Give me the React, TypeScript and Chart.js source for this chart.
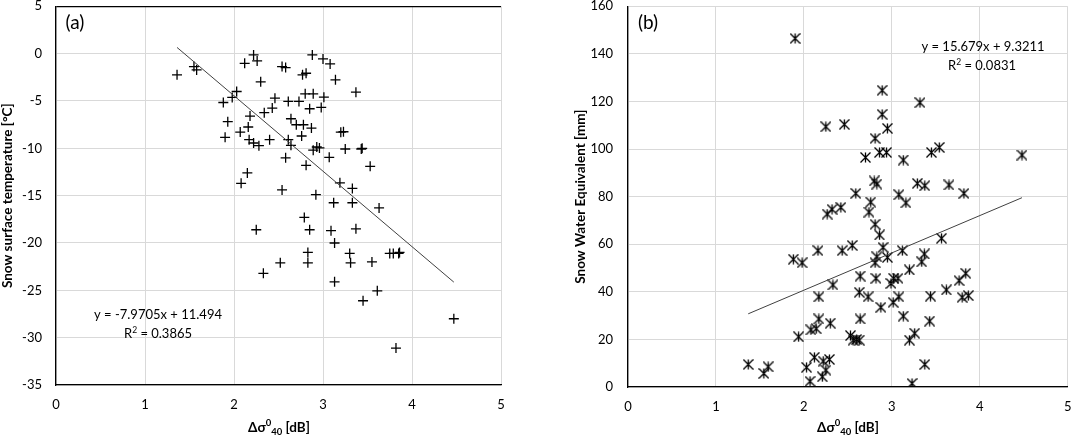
import React, { useEffect, useRef } from 'react';
import { Chart, registerables } from 'chart.js';
Chart.register(...registerables);

// ---- Panel (a): snow surface temperature vs Δσ0_40 ----
const tempDsigma = [
  1.36, 1.55, 1.58, 2.22, 2.26, 2.12, 2.54, 2.58, 2.88, 3.00,
  3.08, 2.77, 2.81, 3.14, 2.30, 2.03, 1.98, 1.88, 2.46, 2.61,
  2.73, 2.80, 2.89, 3.01, 2.85, 2.98, 2.43, 2.34, 2.18, 1.93,
  2.16, 2.64, 2.70, 2.78, 2.87, 3.20, 3.23, 2.07, 1.90, 2.76,
  2.40, 2.17, 2.22, 2.28, 2.61, 2.64, 2.89, 2.93, 2.96, 3.07,
  2.58, 2.81, 2.15, 2.08, 2.54, 2.92, 3.53, 3.19, 3.33, 3.12,
  3.33, 3.63, 2.79, 2.25, 2.85, 3.09, 3.37, 3.13, 2.83, 3.30,
  2.83, 2.52, 3.31, 3.55, 2.33, 3.13, 3.61, 3.45, 3.25, 3.43,
  3.44, 3.75, 3.79, 3.85, 3.86, 4.47, 3.82, 3.37,
];
const tempValues = [
  -2.24, -1.37, -1.72, -0.14, -0.77, -1.02, -1.37, -1.47, -0.14, -0.56,
  -1.09, -2.24, -2.07, -2.77, -2.98, -4.0, -4.63, -5.16, -4.7, -5.05,
  -5.05, -4.25, -4.25, -4.6, -5.82, -5.68, -5.75, -6.24, -6.6, -7.19,
  -7.75, -6.88, -7.51, -7.51, -7.86, -8.3, -8.25, -8.28, -8.84, -8.7,
  -9.09, -9.09, -9.44, -9.72, -9.09, -9.68, -10.2, -9.86, -9.96, -10.95,
  -11.0, -11.8, -12.6, -13.7, -14.4, -14.9, -11.9, -13.65, -14.24, -15.75,
  -15.75, -16.3, -17.3, -18.6, -18.6, -18.7, -18.5, -20.0, -21.0, -21.1,
  -22.1, -22.1, -22.1, -22.0, -23.2, -24.1, -25.05, -26.1, -10.07, -10.07,
  -10.0, -21.1, -21.1, -21.1, -21.0, -28.0, -31.1, -4.07,
];
const tempFit = [-7.9705, 11.494]; // slope, intercept
const tempEquation = ['y = -7.9705x + 11.494', '0.3865'];
const tempYTicks = [-35, 5, 5]; // min, max, step

// ---- Panel (b): snow water equivalent vs Δσ0_40 ----
const sweDsigma = [
  1.367, 1.545, 1.594, 1.88, 1.98, 1.94, 2.08, 2.14, 2.03, 2.12,
  2.07, 1.90, 2.89, 3.32, 2.89, 2.25, 2.46, 2.95, 2.81, 2.70,
  2.86, 2.94, 3.13, 3.45, 3.54, 2.80, 2.83, 3.29, 3.375, 3.65,
  2.59, 3.08, 3.16, 2.76, 2.74, 2.265, 2.32, 2.42, 2.81, 2.86,
  2.16, 2.435, 2.55, 2.90, 2.83, 2.81, 2.95, 2.64, 2.82, 2.33,
  2.99, 3.02, 3.07, 2.63, 2.17, 2.73, 4.48, 3.82, 3.565, 3.12,
  3.37, 3.34, 3.20, 3.765, 3.84, 3.08, 3.015, 2.875, 3.44, 3.62,
  3.80, 3.87, 2.64, 3.13, 3.43, 2.30, 2.53, 2.56, 2.60, 2.63,
  3.26, 3.20, 2.17, 2.22, 2.29, 2.25, 2.21, 3.375, 3.23,
];
const sweValues = [
  9.5, 5.7, 8.5, 53.7, 52.2, 21.1, 24.0, 24.5, 8.3, 12.5,
  2.4, 146.5, 124.7, 119.5, 114.6, 109.4, 110.4, 108.7, 104.5, 96.5,
  98.6, 98.6, 95.4, 98.6, 100.7, 86.6, 85.3, 85.6, 84.6, 84.9,
  81.4, 80.8, 77.4, 77.7, 73.5, 72.7, 74.7, 75.5, 68.4, 63.9,
  57.3, 57.3, 59.5, 58.7, 54.7, 52.2, 54.5, 46.6, 45.7, 42.9,
  43.5, 45.7, 45.7, 39.8, 37.9, 37.9, 97.5, 81.4, 62.5, 57.3,
  55.9, 52.6, 49.2, 44.7, 47.8, 37.9, 35.6, 33.5, 38.2, 40.8,
  37.7, 38.4, 28.6, 29.8, 27.7, 26.8, 21.6, 19.7, 20.0, 19.7,
  22.6, 19.7, 28.6, 10.9, 11.6, 7.1, 4.3, 9.5, 1.5,
];
const sweFit = [15.679, 9.3211];
const sweEquation = ['y = 15.679x + 9.3211', '0.0831'];
const sweYTicks = [0, 160, 20];

const xTicks = [0, 5, 1];

const FONT = 'Lato, "Noto Sans", sans-serif';

type Run = { t: string; size: number; dy?: number; bold?: boolean };
type Line = { runs: Run[]; cx: number; base: number };

function textPlugin(lines: Line[]) {
  return {
    id: 'texts',
    afterDraw(chart: any) {
      const ctx = chart.ctx as CanvasRenderingContext2D;
      ctx.save();
      ctx.fillStyle = '#000';
      ctx.textBaseline = 'alphabetic';
      ctx.textAlign = 'left';
      const f = (r: Run) => `${r.bold ? 'bold ' : ''}${r.size}px ${FONT}`;
      for (const ln of lines) {
        let w = 0;
        for (const r of ln.runs) {
          ctx.font = f(r);
          w += ctx.measureText(r.t).width;
        }
        let x = ln.cx - w / 2;
        for (const r of ln.runs) {
          ctx.font = f(r);
          ctx.fillText(r.t, x, ln.base + (r.dy || 0));
          x += ctx.measureText(r.t).width;
        }
      }
      ctx.restore();
    },
  };
}

function makeStar(): HTMLCanvasElement {
  const c = document.createElement('canvas');
  c.width = 11;
  c.height = 11;
  const g = c.getContext('2d')!;
  g.strokeStyle = '#000';
  g.lineWidth = 1.3;
  const m = 5.5;
  const r = 5;
  g.beginPath();
  g.moveTo(m, m - r);
  g.lineTo(m, m + r);
  g.moveTo(m - r, m - r);
  g.lineTo(m + r, m + r);
  g.moveTo(m + r, m - r);
  g.lineTo(m - r, m + r);
  g.stroke();
  return c;
}

function xTitle(cx: number): Line {
  return {
    cx,
    base: 432,
    runs: [
      { t: 'Δσ', size: 13.5, bold: true },
      { t: '0', size: 9.5, bold: true, dy: -6 },
      { t: '40', size: 9.5, bold: true, dy: 2.5 },
      { t: ' [dB]', size: 13.5, bold: true },
    ],
  };
}

function buildChart(
  canvas: HTMLCanvasElement,
  xs: number[],
  ys: number[],
  fit: number[],
  yTicks: number[],
  yTitle: string,
  yAxisWidth: number,
  yTitlePad: number,
  yTickPad: number,
  pad: { top: number; right: number },
  xAxisHeight: number,
  pointStyle: any,
  radius: number,
  texts: Line[],
  blackTop: boolean,
) {
  const pts = xs.map((x, i) => ({ x, y: ys[i] }));
  const xmin = Math.min(...xs);
  const xmax = Math.max(...xs);
  const trend = [
    { x: xmin, y: fit[0] * xmin + fit[1] },
    { x: xmax, y: fit[0] * xmax + fit[1] },
  ];
  const tickFont = { family: FONT, size: 13 };
  return new Chart(canvas, {
    type: 'scatter',
    data: {
      datasets: [
        {
          data: trend,
          showLine: true,
          borderColor: '#404040',
          borderWidth: 1,
          pointRadius: 0,
          fill: false,
        } as any,
        {
          data: pts,
          pointStyle,
          pointRadius: radius,
          pointHoverRadius: radius,
          borderColor: '#000',
          backgroundColor: '#000',
          borderWidth: 1.3,
          showLine: false,
        } as any,
      ],
    },
    options: {
      animation: false,
      responsive: false,
      events: [],
      layout: { padding: { top: pad.top, right: pad.right, left: 0, bottom: 0 } },
      plugins: { legend: { display: false }, tooltip: { enabled: false } },
      scales: {
        x: {
          type: 'linear',
          min: xTicks[0],
          max: xTicks[1],
          ticks: { stepSize: xTicks[2], color: '#000', font: tickFont, padding: 12 },
          grid: { color: '#d9d9d9', drawTicks: false, lineWidth: 1 },
          border: { color: '#000', width: 1.3 },
          afterFit: (s: any) => {
            s.height = xAxisHeight;
            s.paddingLeft = 0;
            s.paddingRight = 0;
          },
        },
        y: {
          type: 'linear',
          min: yTicks[0],
          max: yTicks[1],
          ticks: { stepSize: yTicks[2], color: '#000', font: tickFont, padding: yTickPad },
          grid: {
            color: (c: any) =>
              blackTop && c.tick && c.tick.value === yTicks[1] ? '#000' : '#d9d9d9',
            lineWidth: (c: any) => (blackTop && c.tick && c.tick.value === yTicks[1] ? 1.3 : 1),
            drawTicks: false,
          },
          border: { color: '#000', width: 1.3 },
          title: {
            display: true,
            text: yTitle,
            color: '#000',
            font: { family: FONT, size: 13.5, weight: 'bold' },
            padding: { top: yTitlePad, bottom: 0 },
          },
          afterFit: (s: any) => {
            s.width = yAxisWidth;
            s.paddingTop = 0;
            s.paddingBottom = 0;
          },
        },
      },
    } as any,
    plugins: [textPlugin(texts)],
  });
}

export default function App() {
  const refA = useRef<HTMLCanvasElement>(null);
  const refB = useRef<HTMLCanvasElement>(null);

  useEffect(() => {
    const a = buildChart(
      refA.current!,
      tempDsigma,
      tempValues,
      tempFit,
      tempYTicks,
      'Snow surface temperature [°C]',
      56,
      0,
      14,
      { top: 5, right: 39 },
      55,
      'cross',
      5,
      [
        { cx: 75, base: 29, runs: [{ t: '(a)', size: 19 }] },
        { cx: 158, base: 319, runs: [{ t: tempEquation[0], size: 13 }] },
        {
          cx: 158,
          base: 338,
          runs: [
            { t: 'R', size: 13 },
            { t: '2', size: 8.5, dy: -5 },
            { t: ' = ' + tempEquation[1], size: 13 },
          ],
        },
        xTitle(279),
      ],
      true,
    );
    const b = buildChart(
      refB.current!,
      sweDsigma,
      sweValues,
      sweFit,
      sweYTicks,
      'Snow Water Equivalent [mm]',
      88,
      33,
      15,
      { top: 6, right: 6 },
      53,
      makeStar(),
      5,
      [
        { cx: 648 - 540, base: 29, runs: [{ t: '(b)', size: 19 }] },
        { cx: 983 - 540, base: 51, runs: [{ t: sweEquation[0], size: 13 }] },
        {
          cx: 982 - 540,
          base: 70,
          runs: [
            { t: 'R', size: 13 },
            { t: '2', size: 8.5, dy: -5 },
            { t: ' = ' + sweEquation[1], size: 13 },
          ],
        },
        xTitle(848 - 540),
      ],
      false,
    );
    return () => {
      a.destroy();
      b.destroy();
    };
  }, []);

  return (
    <div
      style={{
        position: 'fixed',
        left: 0,
        top: 0,
        width: 1074,
        height: 440,
        background: '#fff',
      }}
    >
      <div style={{ position: 'absolute', left: 0, top: 0, width: 540, height: 440 }}>
        <canvas ref={refA} width={540} height={440} />
      </div>
      <div style={{ position: 'absolute', left: 540, top: 0, width: 534, height: 440 }}>
        <canvas ref={refB} width={534} height={440} />
      </div>
    </div>
  );
}
